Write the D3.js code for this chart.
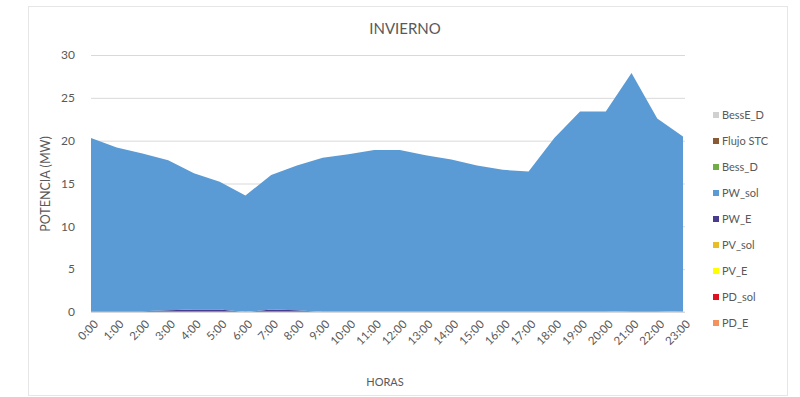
<!DOCTYPE html>
<html>
<head>
<meta charset="utf-8">
<script src="https://cdn.jsdelivr.net/npm/d3@7"></script>
<style>
	body { margin: 0; background: #fff; }
	svg text { font-family: Lato, "Open Sans", sans-serif; fill: #595959; }
	.grid line { stroke: #d9d9d9; }
	.grid path { display: none; }
</style>
</head>
<body>
<div id="chart"></div>
<script>

var horas = ['0:00','1:00','2:00','3:00','4:00','5:00','6:00','7:00','8:00','9:00','10:00','11:00',
	'12:00','13:00','14:00','15:00','16:00','17:00','18:00','19:00','20:00','21:00','22:00','23:00']

// series in stacking order (bottom first)
var seriesNames = ['PD_E','PD_sol','PV_E','PV_sol','PW_E','PW_sol','Bess_D','Flujo STC','BessE_D']
var seriesColors = ['#f4915c','#e0101e','#ffff00','#e8bd2a','#4a3b8f','#5b9bd5','#70ad47','#8a5a34','#d0d0d0']

var zeros = [0,0,0,0,0,0,0,0,0,0,0,0,0,0,0,0,0,0,0,0,0,0,0,0]
var pwE = [0.1,0.1,0.1,0.2,0.3,0.3,0,0.3,0.2,0,0,0,0,0,0,0,0,0,0,0,0,0.1,0.1,0]
var pwSol = [20.2,19.1,18.4,17.5,15.9,14.9,13.6,15.7,16.9,18.0,18.4,18.9,
	18.9,18.3,17.8,17.1,16.6,16.4,20.3,23.4,23.4,27.8,22.5,20.5]

var seriesValues = [zeros, zeros, zeros, zeros, pwE, pwSol, zeros, zeros, zeros]
var yTicks = [0,5,10,15,20,25,30]

var W = 800, H = 397
var margin = { top: 55, left: 91, right: 115, bottom: 85 }

var svg = d3.select('#chart').append('svg')
	.attr('width', W)
	.attr('height', H)

svg.append('rect')
	.attr('x', 28.5).attr('y', 6.5)
	.attr('width', 759).attr('height', 389)
	.attr('fill', '#fff')
	.attr('stroke', '#e6e6e6')

var xScale = d3.scalePoint()
	.domain(horas)
	.range([margin.left, 683])

var yScale = d3.scaleLinear()
	.domain([0, 30])
	.range([312, 55])

svg.append('g')
	.attr('class', 'grid')
	.attr('transform', 'translate(' + margin.left + ',0)')
	.call(d3.axisLeft(yScale).tickValues(yTicks).tickSize(-(685 - margin.left)).tickFormat(''))

var table = horas.map(function(h, i) {
	var row = { hora: h }
	seriesNames.forEach(function(n, j) { row[n] = seriesValues[j][i] })
	return row
})

var stack = d3.stack().keys(seriesNames)
var layers = stack(table)

var area = d3.area()
	.x(function(d) { return xScale(d.data.hora) })
	.y0(function(d) { return yScale(d[0]) })
	.y1(function(d) { return yScale(d[1]) })

svg.append('g').selectAll('path')
	.data(layers)
	.enter().append('path')
	.attr('d', area)
	.attr('fill', function(d, i) { return seriesColors[i] })

// axis line
svg.append('line')
	.attr('x1', margin.left).attr('x2', 685)
	.attr('y1', yScale(0)).attr('y2', yScale(0))
	.attr('stroke', '#d9d9d9')

// y labels
svg.append('g').selectAll('text')
	.data(yTicks)
	.enter().append('text')
	.attr('x', 75)
	.attr('y', function(d) { return yScale(d) })
	.attr('dy', '0.35em')
	.attr('text-anchor', 'end')
	.style('font-size', '12px')
	.text(function(d) { return d })

// x labels
svg.append('g').selectAll('text')
	.data(horas)
	.enter().append('text')
	.attr('transform', function(d) {
		return 'translate(' + (xScale(d) + 5) + ',322) rotate(-45)'
	})
	.attr('text-anchor', 'end')
	.attr('dy', '0.35em')
	.style('font-size', '11.5px')
	.text(function(d) { return d })

svg.append('text')
	.attr('x', 405).attr('y', 34)
	.attr('text-anchor', 'middle')
	.style('font-size', '15px')
	.text('INVIERNO')

svg.append('text')
	.attr('x', 385).attr('y', 386)
	.attr('text-anchor', 'middle')
	.style('font-size', '11px')
	.text('HORAS')

svg.append('text')
	.attr('transform', 'translate(50,184) rotate(-90)')
	.attr('text-anchor', 'middle')
	.style('font-size', '12.5px')
	.text('POTENCIA (MW)')

// legend, top entry is last series
var legendItems = seriesNames.slice().reverse()
var legendColors = seriesColors.slice().reverse()

var legend = svg.append('g').selectAll('g')
	.data(legendItems)
	.enter().append('g')
	.attr('transform', function(d, i) { return 'translate(713,' + (115 + i * 26) + ')' })

legend.append('rect')
	.attr('x', 0).attr('y', -3)
	.attr('width', 6).attr('height', 6)
	.attr('fill', function(d, i) { return legendColors[i] })

legend.append('text')
	.attr('x', 9)
	.attr('dy', '0.35em')
	.style('font-size', '11px')
	.text(function(d) { return d })

</script>
</body>
</html>
